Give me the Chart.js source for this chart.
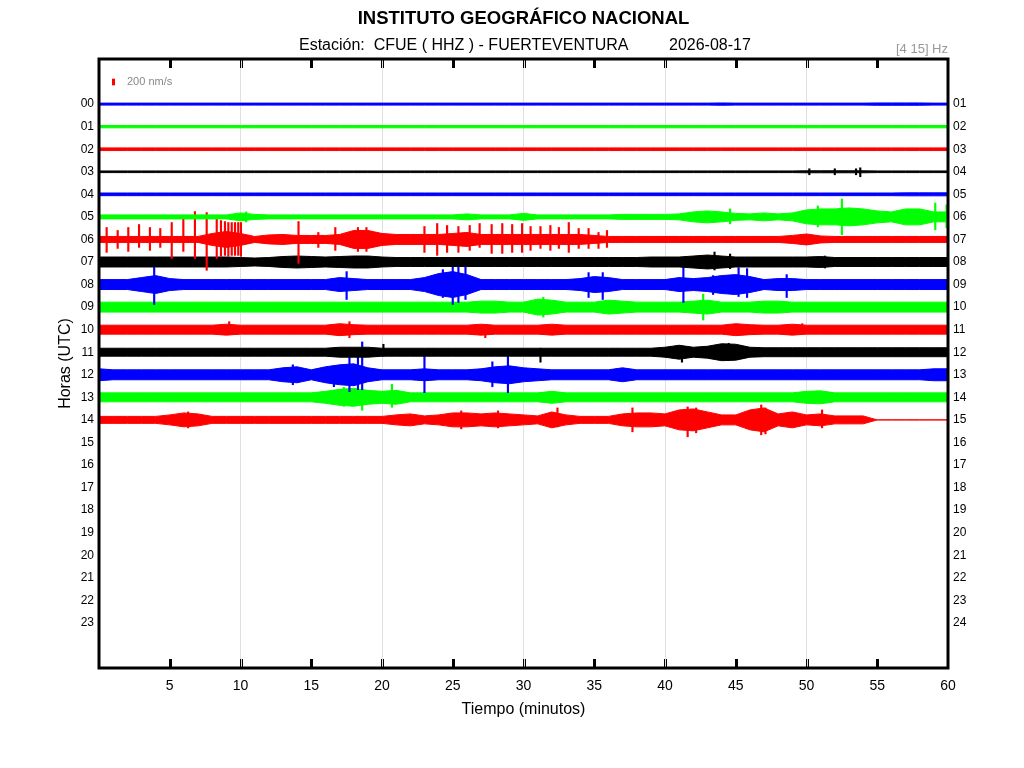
<!DOCTYPE html>
<html>
<head>
<meta charset="utf-8">
<title>Helicorder CFUE</title>
<script src="https://cdn.jsdelivr.net/npm/chart.js@4.4.1/dist/chart.umd.min.js"></script>
<style>
  html, body { margin: 0; padding: 0; background: #ffffff; }
  #wrap { width: 1024px; height: 768px; }
</style>
</head>
<body>
<div id="wrap"><canvas id="heli" width="1024" height="768"></canvas></div>
<script>
// --- Labels ---
const TITLE = 'INSTITUTO GEOGRÁFICO NACIONAL';
const STATION = 'Estación:  CFUE ( HHZ ) - FUERTEVENTURA';
const DATE = '2026-08-17';
const BAND = '[4 15] Hz';
const SCALE_LABEL = '200 nm/s';
const SCALE_VALUE = 200; // nm/s

const HOURS = [0, 1, 2, 3, 4, 5, 6, 7, 8, 9, 10, 11, 12, 13, 14, 15, 16, 17, 18, 19, 20, 21, 22, 23];
const LEFT_LABELS = ['00', '01', '02', '03', '04', '05', '06', '07', '08', '09', '10', '11',
                     '12', '13', '14', '15', '16', '17', '18', '19', '20', '21', '22', '23'];
const RIGHT_LABELS = ['01', '02', '03', '04', '05', '06', '07', '08', '09', '10', '11', '12',
                      '13', '14', '15', '16', '17', '18', '19', '20', '21', '22', '23', '24'];

// nm/s that fill the gap between two hour lines
const NM_PER_ROW = 680;

// --- Trace envelopes: half amplitude (nm/s) read per minute, minutes 0..60 ---
const amp00 = [30,30,30,30,30,30,30,30,30,30, 30,30,30,30,30,30,30,30,30,30,
               30,30,30,30,30,30,30,30,30,30, 30,30,30,30,30,30,30,30,30,30,
               30,30,30,30,35,30,30,30,30,30, 30,30,30,30,30,35,35,35,35,30, 30];
const amp01 = [35,35,35,35,35,35,35,35,35,35, 35,35,35,35,35,35,35,35,35,35,
               35,35,35,35,35,35,35,35,35,35, 35,35,35,35,35,35,35,35,35,35,
               35,35,35,35,35,35,35,35,35,35, 35,35,35,35,35,35,35,35,35,35, 35];
const amp02 = [40,40,40,40,40,40,40,40,40,40, 40,40,40,40,40,40,40,40,40,40,
               40,40,40,40,40,40,40,40,40,40, 40,40,40,40,40,40,40,40,40,40,
               40,40,40,40,40,40,40,40,40,40, 40,40,40,40,40,40,40,40,40,40, 40];
const amp03 = [25,25,25,25,25,25,25,25,25,25, 25,25,25,25,25,25,25,25,25,25,
               25,25,25,25,25,25,25,25,25,25, 25,25,25,25,25,25,25,25,25,25,
               25,25,25,25,25,25,25,25,25,25, 30,30,30,30,30,25,25,25,25,25, 25];
const amp04 = [40,40,40,40,40,40,40,40,40,40, 40,40,40,40,40,40,40,40,40,40,
               40,40,40,40,40,40,40,40,40,40, 40,40,40,40,40,40,40,40,40,40,
               40,40,40,40,40,40,40,40,40,40, 40,40,40,40,40,40,40,45,45,45, 45];
const amp05 = [60,60,60,60,60,60,60,60,60,60, 120,75,60,60,60,60,60,60,60,60,
               60,60,60,60,60,60,90,60,60,60, 105,60,60,60,60,60,60,75,75,75,
               75,90,150,180,150,105,90,120,90,120, 210,240,240,270,240,180,150,240,240,150, 150];
const amp06 = [90,90,90,90,90,90,90,90,180,240, 180,90,135,150,120,120,120,150,270,270,
               180,150,150,150,150,180,210,150,150,150, 150,150,150,150,150,120,90,90,90,90,
               90,90,90,90,90,90,90,90,90,120, 165,105,90,90,90,90,90,90,90,90, 90];
const amp07 = [150,150,150,150,150,150,150,150,150,150, 135,120,135,165,180,165,150,165,180,180,
               150,135,135,135,135,135,135,135,135,135, 135,135,135,135,135,135,135,135,135,150,
               150,150,180,210,180,150,150,150,150,150, 150,165,135,135,135,135,135,135,135,135, 135];
const amp08 = [150,150,150,210,270,180,150,150,150,150, 150,150,150,150,150,150,150,210,180,150,
               150,150,150,210,330,390,300,150,150,150, 150,150,150,150,180,240,210,150,150,150,
               150,210,180,210,270,300,240,150,180,180, 150,150,150,150,150,150,150,150,150,150, 150];
const amp09 = [150,150,150,150,150,150,150,150,150,150, 150,150,150,150,150,150,150,150,150,150,
               150,150,150,150,150,150,150,180,180,150, 150,240,210,150,150,150,210,180,150,150,
               150,150,180,210,150,150,150,180,180,150, 150,150,150,150,150,150,150,150,150,150, 150];
const amp10 = [135,135,135,135,135,135,135,135,135,165, 135,135,135,135,135,135,135,180,150,135,
               135,135,135,135,135,135,135,165,135,135, 135,135,165,135,135,135,135,135,135,135,
               135,135,135,135,135,180,150,135,135,165, 135,135,135,135,135,135,135,135,135,135, 135];
const amp11 = [120,120,120,120,120,120,120,120,120,120, 120,120,120,120,120,120,120,150,150,150,
               120,120,120,120,120,120,120,120,120,120, 120,120,120,120,120,120,120,120,120,120,
               150,210,150,180,255,240,150,135,135,135, 135,135,135,135,135,135,135,135,135,135, 135];
const amp12 = [180,150,150,150,150,150,150,150,150,150, 150,150,150,210,240,150,240,300,330,210,
               150,150,150,180,150,150,150,180,240,270, 210,180,150,150,150,150,150,210,150,150,
               150,150,150,150,150,150,150,150,150,150, 150,150,150,150,150,150,150,150,150,180, 180];
const amp13 = [135,135,135,135,135,135,135,135,135,135, 135,135,135,135,135,135,180,240,270,210,
               180,210,135,135,135,135,135,135,135,135, 135,135,180,135,135,135,135,135,135,135,
               135,135,135,135,135,135,135,135,135,135, 180,195,135,135,135,135,135,135,135,135, 135];
const amp14 = [105,105,105,105,105,150,210,180,105,105, 105,105,105,105,105,105,105,105,105,105,
               105,150,180,120,150,210,210,180,210,180, 150,120,240,150,105,105,105,180,210,210,
               180,300,330,240,150,150,300,360,180,240, 150,180,120,120,120,0,0,0,0,0, 0];

// --- Isolated peaks: [minute, amplitude above (nm/s), amplitude below (nm/s)] ---
const spikes03 = [[50.2, 90, 90], [52.0, 90, 90], [53.5, 90, 90], [53.8, 120, 150]];
const spikes05 = [[10.4, 150, 150], [44.6, 240, 210], [50.8, 330, 300], [52.5, 540, 540],
                  [59.1, 420, 390], [59.9, 360, 330]];
const spikes06 = [[0.54, 360, 390], [1.32, 270, 270], [2.07, 360, 360], [2.83, 450, 240],
                  [3.6, 360, 330], [4.33, 330, 240], [5.14, 510, 570], [5.96, 630, 360],
                  [6.78, 840, 570], [7.61, 810, 930], [8.32, 630, 570], [8.62, 570, 510],
                  [8.9, 540, 480], [9.14, 510, 510], [9.38, 510, 480], [9.61, 510, 480],
                  [9.84, 510, 480], [10.03, 510, 510], [14.1, 540, 720], [15.5, 210, 240],
                  [16.7, 360, 330], [18.3, 360, 360], [18.9, 360, 360], [23.0, 390, 390],
                  [23.9, 480, 480], [24.6, 420, 390], [25.4, 390, 390], [26.2, 420, 330],
                  [26.9, 480, 240], [27.75, 450, 420], [28.5, 480, 420], [29.2, 450, 390],
                  [29.9, 480, 390], [30.5, 390, 330], [31.2, 390, 270], [31.9, 420, 330],
                  [32.5, 360, 270], [33.2, 510, 390], [33.9, 330, 270], [34.6, 330, 270],
                  [35.3, 210, 270], [35.9, 270, 240]];
const spikes07 = [[43.5, 300, 240], [44.6, 240, 200], [51.3, 180, 180]];
const spikes08 = [[3.9, 600, 600], [17.5, 390, 450], [24.3, 450, 390], [25.0, 750, 600],
                  [25.4, 690, 540], [25.9, 600, 450], [34.6, 360, 390], [35.6, 360, 450],
                  [41.3, 570, 540], [43.4, 270, 300], [45.2, 510, 360], [45.8, 480, 390],
                  [48.6, 300, 390]];
const spikes09 = [[31.4, 300, 300], [42.7, 390, 390]];
const spikes10 = [[9.2, 240, 150], [17.7, 240, 240], [27.3, 150, 240], [49.7, 180, 120]];
const spikes11 = [[20.1, 240, 120], [31.2, 120, 300], [41.2, 180, 300], [44.5, 270, 240]];
const spikes12 = [[13.7, 300, 300], [16.6, 240, 360], [17.7, 660, 510], [18.3, 660, 450],
                  [18.6, 990, 450], [23.0, 750, 540], [27.8, 390, 360], [28.9, 600, 540]];
const spikes13 = [[17.3, 300, 270], [18.6, 240, 390], [20.7, 390, 300]];
const spikes14 = [[6.3, 240, 240], [25.6, 270, 270], [28.2, 270, 240], [32.4, 360, 210],
                  [37.7, 360, 360], [41.6, 390, 510], [42.2, 360, 390], [46.8, 450, 450],
                  [47.1, 360, 420], [51.1, 300, 240]];

const ROW_COLORS = ['#0000ff', '#00ff00', '#ff0000', '#000000'];

const traces = [amp00, amp01, amp02, amp03, amp04, amp05, amp06, amp07,
                amp08, amp09, amp10, amp11, amp12, amp13, amp14];
const peaks = [[], [], [], spikes03, [], spikes05, spikes06, spikes07,
               spikes08, spikes09, spikes10, spikes11, spikes12, spikes13, spikes14];

const datasets = [];
traces.forEach((amp, h) => {
    const color = ROW_COLORS[h % ROW_COLORS.length];
    // upper edge, filled down to the lower edge
    datasets.push({
        type: 'line',
        data: amp.map((a, m) => ({ x: m, y: h - a / NM_PER_ROW })),
        borderColor: color,
        backgroundColor: color,
        borderWidth: 1,
        pointRadius: 0,
        tension: 0,
        fill: '+1'
    });
    // lower edge
    datasets.push({
        type: 'line',
        data: amp.map((a, m) => ({ x: m, y: h + a / NM_PER_ROW })),
        borderColor: color,
        borderWidth: 1,
        pointRadius: 0,
        tension: 0,
        fill: false
    });
    if (peaks[h].length) {
        datasets.push({
            type: 'bar',
            data: peaks[h].map(([m, up, down]) => ({ x: m, y: [h - up / NM_PER_ROW, h + down / NM_PER_ROW] })),
            backgroundColor: color,
            borderWidth: 0,
            grouped: false,
            barThickness: 1.5
        });
    }
});

// Frame, inward ticks, header texts and amplitude scale bar
const helicorderDecor = {
    id: 'helicorderDecor',
    afterDraw(chart) {
        const { ctx, chartArea: a, scales } = chart;
        const x = scales.x, y = scales.y;
        ctx.save();

        // inward ticks every 5 minutes
        x.ticks.forEach(t => {
            if (t.value <= 0 || t.value >= 60) return;
            const px = Math.round(x.getPixelForValue(t.value));
            ctx.fillStyle = '#000';
            ctx.fillRect(px - 1, a.top, 3, 9);
            ctx.fillRect(px - 1, a.bottom - 9, 3, 9);
            if (t.value % 10 === 0) {
                ctx.fillStyle = '#e0e0e0';
                ctx.fillRect(px, a.top, 1, 9);
                ctx.fillRect(px, a.bottom - 9, 1, 9);
            }
        });

        // frame
        ctx.strokeStyle = '#000';
        ctx.lineWidth = 3;
        ctx.strokeRect(a.left, a.top, a.right - a.left, a.bottom - a.top);

        // header
        ctx.fillStyle = '#000';
        ctx.textBaseline = 'middle';
        ctx.textAlign = 'center';
        ctx.font = 'bold 18.5px "Liberation Sans", Arial, sans-serif';
        ctx.fillText(TITLE, (a.left + a.right) / 2, 19);
        ctx.textAlign = 'left';
        ctx.font = '16px "Liberation Sans", Arial, sans-serif';
        ctx.fillText(STATION, 299, 46);
        ctx.fillText(DATE, 669, 46);
        ctx.textAlign = 'right';
        ctx.fillStyle = '#999';
        ctx.font = '13px "Liberation Sans", Arial, sans-serif';
        ctx.fillText(BAND, a.right, 49);

        // amplitude scale bar
        const y0 = y.getPixelForValue(-1);
        const y1 = y.getPixelForValue(-1 + SCALE_VALUE / NM_PER_ROW);
        ctx.fillStyle = '#ff0000';
        ctx.fillRect(112, 82 - Math.abs(y1 - y0) / 2, 3, Math.abs(y1 - y0));
        ctx.fillStyle = '#888';
        ctx.textAlign = 'left';
        ctx.font = '11px "Liberation Sans", Arial, sans-serif';
        ctx.fillText(SCALE_LABEL, 127, 82);

        ctx.restore();
    }
};

Chart.defaults.font.family = '"Liberation Sans", Arial, sans-serif';
Chart.defaults.color = '#000';

const hourAxis = (labels, position, width, withTitle) => ({
    type: 'linear',
    position: position,
    reverse: true,
    min: -2,
    max: 25,
    afterBuildTicks: s => { s.ticks = HOURS.map(v => ({ value: v })); },
    afterFit: s => { s.width = width; },
    ticks: {
        autoSkip: false,
        padding: 5,
        font: { size: 12 },
        color: '#000',
        callback: v => labels[v]
    },
    grid: { display: false, drawTicks: false },
    border: { display: false },
    title: {
        display: withTitle,
        text: 'Horas (UTC)',
        font: { size: 16 },
        color: '#000',
        padding: { top: 56, bottom: 0 }
    }
});

new Chart(document.getElementById('heli'), {
    type: 'line',
    data: { datasets },
    plugins: [helicorderDecor],
    options: {
        responsive: false,
        animation: false,
        events: [],
        layout: { padding: { top: 59, left: 0, right: 0, bottom: 0 } },
        plugins: { legend: { display: false }, tooltip: { enabled: false } },
        scales: {
            x: {
                type: 'linear',
                min: 0,
                max: 60,
                offset: false,
                afterFit: s => { s.height = 100; },
                ticks: {
                    stepSize: 5,
                    autoSkip: false,
                    maxRotation: 0,
                    padding: 10,
                    font: { size: 14 },
                    color: '#000',
                    callback: v => (v === 0 ? '' : v)
                },
                grid: {
                    offset: false,
                    drawTicks: false,
                    lineWidth: 1,
                    color: c => (c.tick && c.tick.value % 10 === 0 && c.tick.value > 0 && c.tick.value < 60) ? '#e0e0e0' : 'rgba(0,0,0,0)'
                },
                border: { display: false },
                title: {
                    display: true,
                    text: 'Tiempo (minutos)',
                    font: { size: 16 },
                    color: '#000',
                    padding: { top: 0, bottom: 49 }
                }
            },
            y: hourAxis(LEFT_LABELS, 'left', 99, true),
            y2: hourAxis(RIGHT_LABELS, 'right', 76, false)
        }
    }
});
</script>
</body>
</html>
